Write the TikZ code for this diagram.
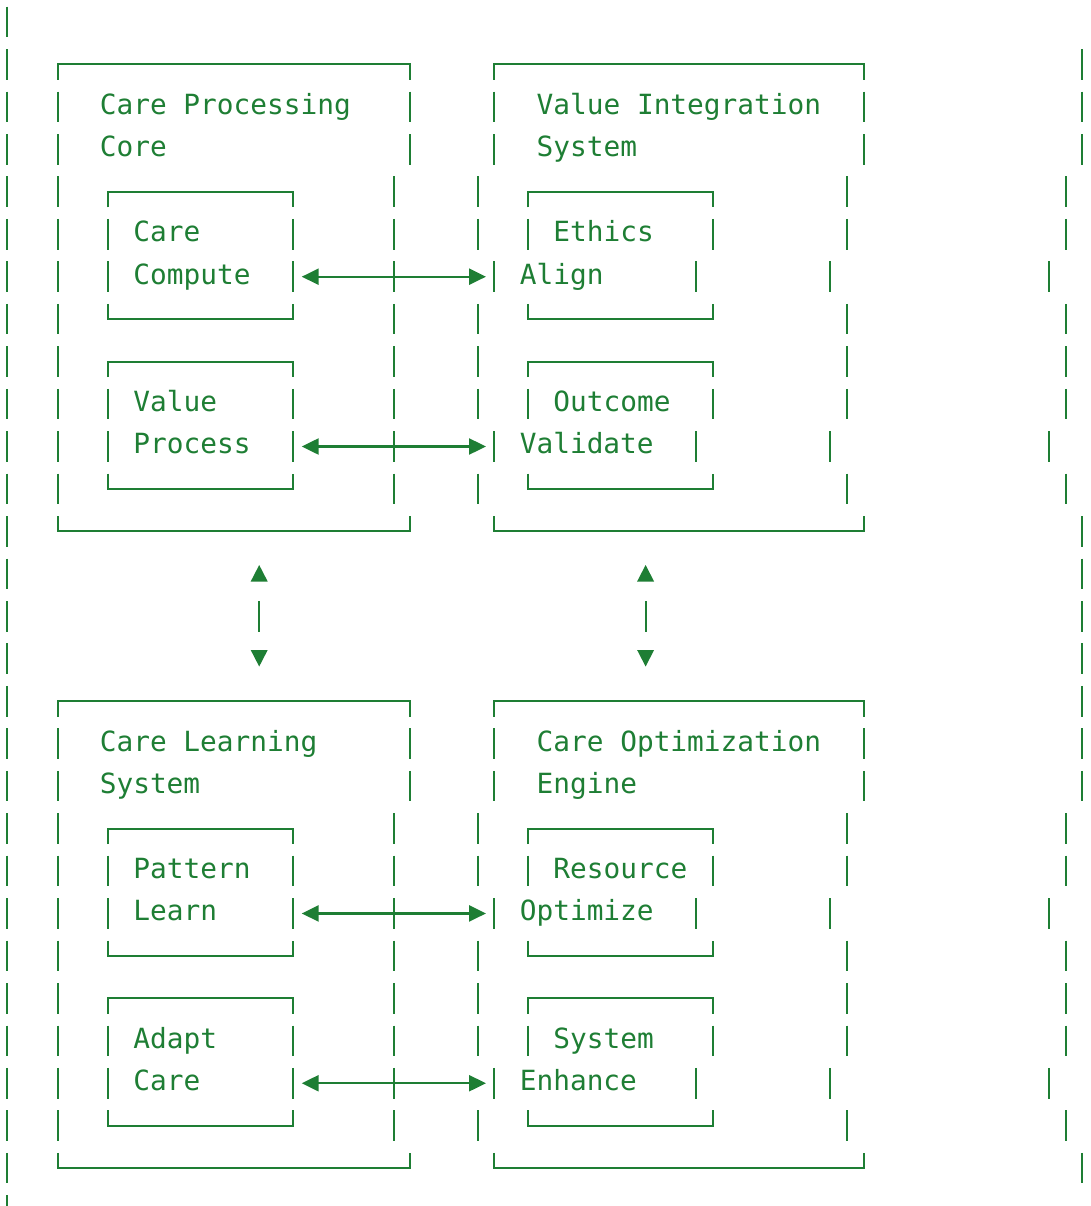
\documentclass[tikz,border=0pt]{standalone}
\usepackage{fontspec}
\newfontfamily\asciimono{DejaVu Sans Mono}
\usetikzlibrary{arrows.meta}
\definecolor{ink}{RGB}{30,126,52}
\newcommand\myvb[2]{\draw[ln] ({cx(#1)},{ry(#2)-15.3}) -- ({cx(#1)},{ry(#2)+15.3});}
\newcommand\mytop[3]{\draw[ln] ({cx(#1)},{ry(#3)+15.5}) -- ({cx(#1)},{ry(#3)}) -- ({cx(#2)},{ry(#3)}) -- ({cx(#2)},{ry(#3)+15.5});}
\newcommand\mybot[3]{\draw[ln] ({cx(#1)},{ry(#3)-15.3}) -- ({cx(#1)},{ry(#3)}) -- ({cx(#2)},{ry(#3)}) -- ({cx(#2)},{ry(#3)-15.3});}
\begin{document}
\begin{tikzpicture}[x=1pt,y=-1pt,
  declare function={cx(\c)=7.2+16.8*\c; ry(\r)=22+42.45*\r;},
  ln/.style={draw=ink,line width=2.1pt},
  txt/.style={text=ink,font=\asciimono\fontsize{27.8}{30}\selectfont,inner sep=0pt,anchor=base west},
  dbl/.style={draw=ink,line width=2.4pt,{Triangle[length=17pt,width=16pt]}-{Triangle[length=17pt,width=16pt]}}
]
\useasboundingbox (0,0) rectangle (1091,1206);

% left outer bars
\foreach \r in {0,...,27} {\myvb{0}{\r}}
\draw[ln] ({cx(0)},{ry(28)-15.3}) -- ({cx(0)},1206);
% right outer bars
\foreach \r in {1,2,3,12,13,14,15,16,17,18,27} {\myvb{64}{\r}}
\foreach \r in {4,5,7,8,9,11,19,20,22,23,24,26} {\myvb{63}{\r}}
\foreach \r in {6,10,21,25} {\myvb{62}{\r}}

\foreach \o in {0,15}{
  % left big box
  \mytop{3}{24}{\o+1}
  \foreach \r in {2,3} {\myvb{3}{\o+\r}\myvb{24}{\o+\r}}
  \foreach \r in {4,...,11} {\myvb{3}{\o+\r}\myvb{23}{\o+\r}}
  \mybot{3}{24}{\o+12}
  % left inner boxes
  \foreach \t in {4,8} {
    \mytop{6}{17}{\o+\t}
    \myvb{6}{\o+\t+1}\myvb{17}{\o+\t+1}
    \myvb{6}{\o+\t+2}\myvb{17}{\o+\t+2}
    \mybot{6}{17}{\o+\t+3}
  }
  % right big box
  \mytop{29}{51}{\o+1}
  \foreach \r in {2,3} {\myvb{29}{\o+\r}\myvb{51}{\o+\r}}
  \foreach \r in {4,5,7,8,9,11} {\myvb{28}{\o+\r}\myvb{50}{\o+\r}}
  \foreach \r in {6,10} {\myvb{29}{\o+\r}\myvb{41}{\o+\r}\myvb{49}{\o+\r}}
  \mybot{29}{51}{\o+12}
  % right inner boxes
  \foreach \t in {4,8} {
    \mytop{31}{42}{\o+\t}
    \myvb{31}{\o+\t+1}\myvb{42}{\o+\t+1}
    \mybot{31}{42}{\o+\t+3}
  }
}

% titles
\node[txt] (tCPC) at ({cx(6)-8.4},{ry(2)+7.4}) {Care Processing};
\node[txt] (tCPC2) at ({cx(6)-8.4},{ry(3)+7.4}) {Core};
\node[txt] (tVIS) at ({cx(32)-8.4},{ry(2)+7.4}) {Value Integration};
\node[txt] (tVIS2) at ({cx(32)-8.4},{ry(3)+7.4}) {System};
\node[txt] (tCLS) at ({cx(6)-8.4},{ry(17)+7.4}) {Care Learning};
\node[txt] (tCLS2) at ({cx(6)-8.4},{ry(18)+7.4}) {System};
\node[txt] (tCOE) at ({cx(32)-8.4},{ry(17)+7.4}) {Care Optimization};
\node[txt] (tCOE2) at ({cx(32)-8.4},{ry(18)+7.4}) {Engine};
% inner texts left
\node[txt] (cc1) at ({cx(8)-8.4},{ry(5)+7.4}) {Care};
\node[txt] (cc2) at ({cx(8)-8.4},{ry(6)+7.4}) {Compute};
\node[txt] (vp1) at ({cx(8)-8.4},{ry(9)+7.4}) {Value};
\node[txt] (vp2) at ({cx(8)-8.4},{ry(10)+7.4}) {Process};
\node[txt] (pl1) at ({cx(8)-8.4},{ry(20)+7.4}) {Pattern};
\node[txt] (pl2) at ({cx(8)-8.4},{ry(21)+7.4}) {Learn};
\node[txt] (ac1) at ({cx(8)-8.4},{ry(24)+7.4}) {Adapt};
\node[txt] (ac2) at ({cx(8)-8.4},{ry(25)+7.4}) {Care};
% inner texts right
\node[txt] (ea1) at ({cx(33)-8.4},{ry(5)+7.4}) {Ethics};
\node[txt] (ea2) at ({cx(31)-8.4},{ry(6)+7.4}) {Align};
\node[txt] (ov1) at ({cx(33)-8.4},{ry(9)+7.4}) {Outcome};
\node[txt] (ov2) at ({cx(31)-8.4},{ry(10)+7.4}) {Validate};
\node[txt] (ro1) at ({cx(33)-8.4},{ry(20)+7.4}) {Resource};
\node[txt] (ro2) at ({cx(31)-8.4},{ry(21)+7.4}) {Optimize};
\node[txt] (se1) at ({cx(33)-8.4},{ry(24)+7.4}) {System};
\node[txt] (se2) at ({cx(31)-8.4},{ry(25)+7.4}) {Enhance};

% horizontal double arrows
\foreach \r in {6,10,21,25} {
  \coordinate (aL\r) at (301.7,{ry(\r)});
  \coordinate (aR\r) at (486,{ry(\r)});
  \draw[dbl] (aL\r) -- (aR\r);
}

% vertical up/down markers
\foreach \c/\n in {15/a,38/b} {
  \coordinate (up\n) at ({cx(\c)},565);
  \coordinate (dn\n) at ({cx(\c)},666.5);
  \fill[ink] (up\n) -- ++(8.5,16.5) -- ++(-17,0) -- cycle;
  \myvb{\c}{14}
  \fill[ink] (dn\n) -- ++(8.5,-16.5) -- ++(-17,0) -- cycle;
}
\end{tikzpicture}
\end{document}
